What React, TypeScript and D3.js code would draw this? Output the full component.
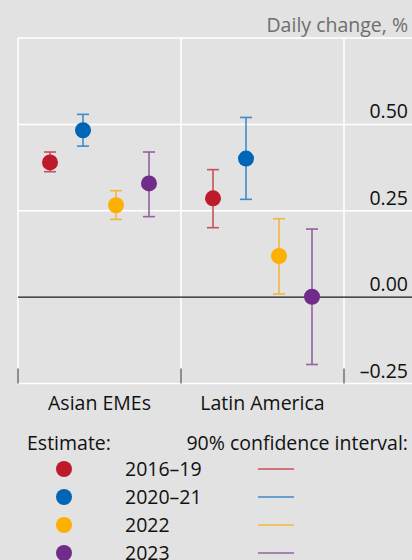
import React from 'react';
import * as d3 from 'd3';

const regions = ['Asian EMEs', 'Latin America'];
const periods = ['2016–19', '2020–21', '2022', '2023'];
const dotColors = ['#bd1b2c', '#0065b5', '#fbb003', '#712b8b'];
const ciColors = ['#c9505c', '#3f8bcb', '#f3b73f', '#93629f'];

// estimate per region, in period order
const estimates = [
  [0.39, 0.483, 0.266, 0.329],
  [0.286, 0.401, 0.119, 0.001],
];
const ciLow = [
  [0.363, 0.437, 0.225, 0.233],
  [0.201, 0.283, 0.009, -0.195],
];
const ciHigh = [
  [0.42, 0.529, 0.308, 0.42],
  [0.369, 0.52, 0.227, 0.197],
];
const yTicks = [-0.25, 0, 0.25, 0.5];

const W = 412;
const H = 560;
const FONT = '"Open Sans", sans-serif';
const FS = 19.5;

const App = () => {
  const plot = { left: 18, right: 412, top: 38, bottom: 383.5 };
  const groupW = 163;

  const x = d3.scaleBand().domain(regions).range([plot.left, plot.left + 2 * groupW]);
  const inner = d3.scalePoint().domain(periods).range([0, x.bandwidth()]).padding(0.97);
  const y = d3.scaleLinear().domain([-0.25, 0.75]).range([plot.bottom, plot.top]);

  const gridX = [plot.left, plot.left + groupW, plot.left + 2 * groupW];

  return (
    <svg width={W} height={H} style={{ position: 'absolute', left: 0, top: 0, fontFamily: FONT }}>
      <rect x={0} y={0} width={W} height={H} fill="#e1e2e1" />

      {/* frame + grid */}
      <line x1={plot.left} x2={plot.right} y1={plot.top} y2={plot.top} stroke="#fff" strokeWidth={1.5} />
      {gridX.map((gx, i) => (
        <line key={'gx' + i} x1={gx} x2={gx} y1={plot.top} y2={plot.bottom} stroke="#fff" strokeWidth={1.5} />
      ))}
      {yTicks.filter((t) => t !== 0).map((t) => (
        <line key={'gy' + t} x1={plot.left} x2={plot.right} y1={y(t)} y2={y(t)} stroke="#fff" strokeWidth={1.5} />
      ))}
      <line x1={plot.left} x2={plot.right} y1={y(0)} y2={y(0)} stroke="#1a1a1a" strokeWidth={1.2} />

      {/* bottom ticks */}
      {gridX.map((gx, i) => (
        <line key={'tk' + i} x1={gx} x2={gx} y1={plot.bottom - 15} y2={plot.bottom} stroke="#555" strokeWidth={1.3} />
      ))}

      {/* y labels */}
      {yTicks.map((t) => (
        <text key={'yl' + t} x={408} y={y(t) - 6} textAnchor="end" fontSize={FS} fill="#111">
          {t < 0 ? '–' + Math.abs(t).toFixed(2) : t.toFixed(2)}
        </text>
      ))}
      <text x={408} y={32} textAnchor="end" fontSize={FS} fill="#6e6e6e">Daily change, %</text>

      {/* category labels */}
      {regions.map((r) => (
        <text key={r} x={(x(r) ?? 0) + x.bandwidth() / 2} y={410} textAnchor="middle" fontSize={FS} fill="#111">{r}</text>
      ))}

      {/* error bars and estimates */}
      {regions.map((r, ri) =>
        periods.map((p, pi) => {
          const cx = (x(r) ?? 0) + (inner(p) ?? 0);
          const hi = y(ciHigh[ri][pi]);
          const lo = y(ciLow[ri][pi]);
          return (
            <g key={r + p}>
              <line x1={cx} x2={cx} y1={hi} y2={lo} stroke={ciColors[pi]} strokeWidth={1.6} />
              <line x1={cx - 6} x2={cx + 6} y1={hi} y2={hi} stroke={ciColors[pi]} strokeWidth={1.6} />
              <line x1={cx - 6} x2={cx + 6} y1={lo} y2={lo} stroke={ciColors[pi]} strokeWidth={1.6} />
              <circle cx={cx} cy={y(estimates[ri][pi])} r={8} fill={dotColors[pi]} />
            </g>
          );
        })
      )}

      {/* legend */}
      <text x={27} y={450} fontSize={FS} fill="#111">Estimate:</text>
      <text x={408} y={450} textAnchor="end" fontSize={FS} fill="#111">90% confidence interval:</text>
      {periods.map((p, i) => {
        const ly = 469 + i * 28;
        return (
          <g key={'lg' + p}>
            <circle cx={64} cy={ly} r={8} fill={dotColors[i]} />
            <text x={125} y={ly + 7} fontSize={FS} fill="#111">{p}</text>
            <line x1={258} x2={294} y1={ly} y2={ly} stroke={ciColors[i]} strokeWidth={1.6} />
          </g>
        );
      })}
    </svg>
  );
};

export default App;
